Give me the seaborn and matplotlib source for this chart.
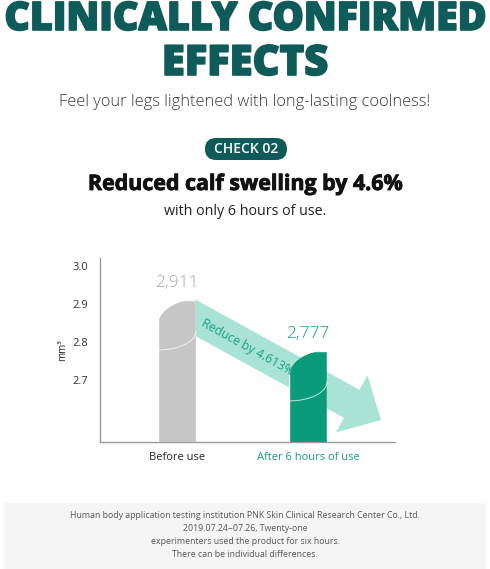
import matplotlib
matplotlib.use("Agg")
import matplotlib.pyplot as plt
import matplotlib.patheffects as pe
from matplotlib.patches import Polygon, FancyBboxPatch, Rectangle
from matplotlib.transforms import Affine2D
import seaborn as sns
import numpy as np

sns.set_style("white")
plt.rcParams["font.family"] = ["Open Sans", "DejaVu Sans"]

# data
categories = ["Before use", "After 6 hours of use"]
values = [2.911, 2.777]
value_labels = ["2,911", "2,777"]
yticks = [2.7, 2.8, 2.9, 3.0]
reduction_label = "Reduce by 4.613%"
footer_lines = [
    "Human body application testing institution PNK Skin Clinical Research Center Co., Ltd.",
    "2019.07.24~07.26, Twenty-one",
    "experimenters used the product for six hours.",
    "There can be individual differences.",
]

TEAL = "#0f5b5a"
GRAY = "#c6c6c6"
GREEN = "#0a9b7a"
MINT = "#a9e3d5"
TXT_GREEN = "#17a088"

W, H = 490, 569
fig = plt.figure(figsize=(W / 100, H / 100), dpi=100)
# pixel coords, origin top-left, for the page layout
PX = Affine2D().scale(1 / W, -1 / H).translate(0, 1) + fig.transFigure
heavy = [pe.withStroke(linewidth=1.2, foreground=TEAL)]

# header
fig.text(245, 30, "CLINICALLY CONFIRMED", transform=PX, ha="center", va="baseline",
         fontsize=28.3, fontweight="heavy", color=TEAL, path_effects=heavy)
fig.text(245, 75, "EFFECTS", transform=PX, ha="center", va="baseline",
         fontsize=30, fontweight="heavy", color=TEAL, path_effects=heavy)
fig.text(245, 106, "Feel your legs lightened with long-lasting coolness!", transform=PX,
         ha="center", va="baseline", fontsize=11.8, fontweight="light", color="#3a3a3a")
fig.add_artist(FancyBboxPatch((205, 138), 82, 22, boxstyle="round,pad=0,rounding_size=11",
                              transform=PX, color=TEAL, lw=0))
fig.text(246, 149, "CHECK 02", transform=PX, ha="center", va="center",
         fontsize=10, fontweight="semibold", color="white")
fig.text(245, 190, "Reduced calf swelling by 4.6%", transform=PX, ha="center",
         va="baseline", fontsize=15.4, fontweight="bold", color="#111111",
         path_effects=[pe.withStroke(linewidth=0.6, foreground="#111111")])
fig.text(245, 215, "with only 6 hours of use.", transform=PX, ha="center",
         va="baseline", fontsize=10.3, color="#222222")

# chart
ax = fig.add_axes([100 / W, 1 - 442 / H, 295 / W, 184 / H])
sns.barplot(x=categories, y=values, hue=categories, palette=[GRAY, GREEN],
            width=0.29, saturation=1, legend=False, ax=ax)
ax.set_ylim(2.537, 3.021)
ax.set_xlim(-0.588, 1.664)

bw = 0.29
cut = 0.068
t = np.linspace(0, np.pi / 2, 40)
for i, (bar, v) in enumerate(zip(ax.patches, values)):
    left, right = i - bw / 2, i + bw / 2
    # leaf shaped top
    cx = right - bw * np.cos(t)
    cy = v - cut + cut * np.sin(t)
    pts = [(right, 2.0), (left, 2.0)] + list(zip(cx, cy))
    bar.set_clip_path(Polygon(pts, closed=True, transform=ax.transData))
    bar.set_zorder(3)
    # thin highlight line
    lx = left + bw * np.sin(t)
    ly = v - 0.132 + 0.05 * (1 - np.cos(t))
    ax.plot(lx, ly, color="white", lw=0.7, alpha=0.75, zorder=4)
    ax.annotate(value_labels[i], xy=(i, v), xytext=(0, 12), textcoords="offset points",
                ha="center", va="center", fontsize=12.5, fontweight="light",
                color="#a6a6a6" if i == 0 else TXT_GREEN, zorder=5)

# reduction arrow
ax.annotate("", xy=(1 + 0.557, values[1] - 0.182), xytext=(0.076, values[0] - 0.035),
            arrowprops=dict(arrowstyle="simple,head_length=24,head_width=47,tail_width=23",
                            mutation_scale=1, color=MINT, lw=0, shrinkA=0, shrinkB=0),
            zorder=1)
ax.text(0.534, 2.787, reduction_label, rotation=-29, rotation_mode="anchor",
        ha="center", va="center", fontsize=8.8, color=TXT_GREEN, zorder=5)

ax.set_yticks(yticks)
ax.set_yticklabels([f"{y:.1f}" for y in yticks])
ax.tick_params(axis="y", length=0, pad=8.5, labelsize=8, labelcolor="#333333")
ax.tick_params(axis="x", length=0, pad=7, labelsize=8)
for lab, c in zip(ax.get_xticklabels(), ["#222222", TXT_GREEN]):
    lab.set_color(c)
ax.set_xlabel("")
ax.set_ylabel("mm³", fontsize=7, labelpad=3, color="#222222")
sns.despine(ax=ax)
for s in ["left", "bottom"]:
    ax.spines[s].set_color("#9a9a9a")
    ax.spines[s].set_linewidth(1)
ax.grid(False)

# footer
fig.add_artist(Rectangle((4, 503), 482, 70, transform=PX, color="#f5f5f5", lw=0, zorder=0))
for k, line in enumerate(footer_lines):
    fig.text(245, 516 + 13 * k, line, transform=PX, ha="center", va="center",
             fontsize=6.3, color="#555555")

fig.savefig("out.png", dpi=100, facecolor="white")
